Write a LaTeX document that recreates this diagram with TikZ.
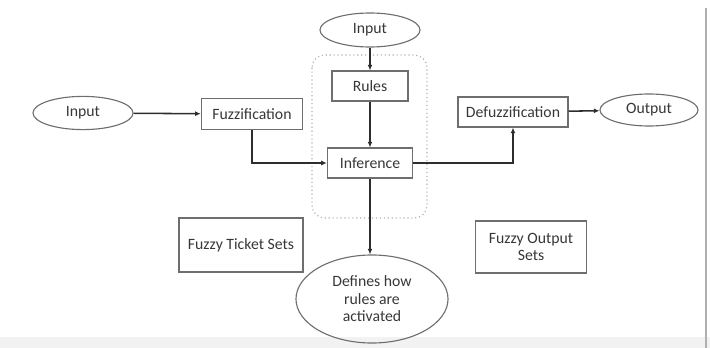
\documentclass[tikz,border=0pt]{standalone}
\usepackage{fontspec}
\setmainfont{Carlito}
\usepackage{tikz}
\usetikzlibrary{shapes.geometric,arrows.meta}
\definecolor{boxline}{RGB}{110, 110, 110}
\definecolor{flowline}{RGB}{45, 45, 45}
\definecolor{textgray}{RGB}{55, 55, 55}
\definecolor{framegray}{RGB}{175, 175, 175}
\definecolor{bandgray}{RGB}{242, 242, 242}
\tikzset{
    blockbox/.style={draw=boxline, line width=0.8pt, rectangle, text=textgray, font=\fontsize{11.2}{12.5}\selectfont, inner sep=2pt},
    ovalbox/.style={draw=boxline, line width=0.8pt, ellipse, text=textgray, font=\fontsize{11.2}{12.5}\selectfont, inner sep=1pt},
    flow/.style={draw=flowline, line width=1.1pt, -{Latex[length=4pt,width=3.5pt]}}
}

\begin{document}
\begin{tikzpicture}[x=0.025cm, y=-0.025cm]
    \useasboundingbox (0,0) rectangle (710,348);
    \fill[bandgray] (0,337) rectangle (710,348);
    \draw[framegray, line width=0.8pt] (706,8) -- (706,348);
    % rule block frame
    \draw[framegray, dotted, line width=0.8pt, rounded corners=9pt] (312,55) rectangle (427,218);
    \node[ovalbox, minimum width=2.5cm, minimum height=0.83cm] (in1) at (83,113) {Input};
    \node[blockbox, minimum width=2.53cm, minimum height=0.78cm] (fuz) at (252,114) {Fuzzification};
    \node[ovalbox, minimum width=2.5cm, minimum height=0.85cm] (in2) at (370,30) {Input};
    \node[blockbox, minimum width=1.9cm, minimum height=0.75cm] (rul) at (370,86) {Rules};
    \node[blockbox, minimum width=2.13cm, minimum height=0.75cm] (inf) at (370,163) {Inference};
    \node[blockbox, minimum width=2.75cm, minimum height=0.75cm] (dfz) at (513,112) {Defuzzification};
    \node[ovalbox, minimum width=2.45cm, minimum height=0.8cm] (out) at (649,110) {Output};
    \node[ovalbox, minimum width=3.8cm, minimum height=2.2cm, align=center] (act) at (372,299) {Defines how\\rules are\\activated};
    \node[blockbox, minimum width=3.1cm, minimum height=1.35cm] (fts) at (241,245) {Fuzzy Ticket Sets};
    \node[blockbox, minimum width=2.78cm, minimum height=1.3cm, align=center] (fos) at (531,247) {Fuzzy Output\\Sets};
    \draw[flow] (in1) -- (fuz);
    \draw[flow] (in2) -- (rul);
    \draw[flow] (rul) -- (inf);
    \draw[flow] (fuz.south) |- (inf.west);
    \draw[flow] (inf.east) -| (dfz.south);
    \draw[flow] (dfz) -- (out);
    \draw[flow] (inf.south) -- (inf.south |- act.north);
\end{tikzpicture}
\end{document}
